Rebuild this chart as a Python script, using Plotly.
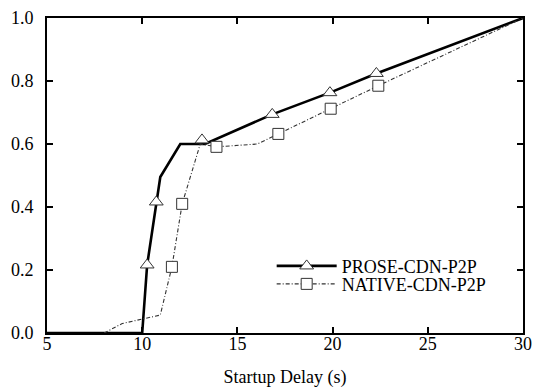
import plotly.graph_objects as go

# CDF of startup delay for the two delivery schemes
prose_x = [5, 10, 10.26, 10.74, 10.95, 12.0, 13.3, 16.83, 19.86, 22.3, 30]
prose_y = [0.0, 0.0, 0.216, 0.416, 0.495, 0.60, 0.60, 0.694, 0.763, 0.824, 1.0]
prose_mx = [10.26, 10.74, 13.14, 16.83, 19.86, 22.3]
prose_my = [0.216, 0.416, 0.613, 0.694, 0.763, 0.824]

native_x = [8.0, 8.95, 10.95, 11.56, 12.1, 13.05, 13.9, 16.05, 17.15, 19.9, 22.4, 30]
native_y = [0.0, 0.03, 0.057, 0.21, 0.41, 0.60, 0.591, 0.60, 0.632, 0.712, 0.785, 1.0]
native_mx = [11.56, 12.1, 13.9, 17.15, 19.9, 22.4]
native_my = [0.21, 0.41, 0.591, 0.632, 0.712, 0.785]

x_ticks = [5, 10, 15, 20, 25, 30]
y_ticks = [0.0, 0.2, 0.4, 0.6, 0.8, 1.0]

FONT = "Liberation Serif, Times New Roman, serif"
prose_line = dict(color="black", width=2.6)
native_line = dict(color="#333333", width=1.1, dash="4px,2px,1px,2px")
tri = dict(symbol="triangle-up", size=12, color="white",
           line=dict(color="#333333", width=1))
sq = dict(symbol="square", size=11, color="white",
          line=dict(color="#333333", width=1))

fig = go.Figure()
fig.add_trace(go.Scatter(x=prose_x, y=prose_y, mode="lines", line=prose_line,
                         showlegend=False, hoverinfo="skip"))
fig.add_trace(go.Scatter(x=native_x, y=native_y, mode="lines", line=native_line,
                         showlegend=False, hoverinfo="skip"))
fig.add_trace(go.Scatter(x=prose_mx, y=prose_my, mode="markers", marker=tri,
                         showlegend=False))
fig.add_trace(go.Scatter(x=native_mx, y=native_my, mode="markers", marker=sq,
                         showlegend=False))
# legend entries (one per legend box so rows can sit tightly)
fig.add_trace(go.Scatter(x=[None], y=[None], mode="lines+markers", name="PROSE-CDN-P2P",
                         line=prose_line, marker=tri, legend="legend"))
fig.add_trace(go.Scatter(x=[None], y=[None], mode="lines+markers", name="NATIVE-CDN-P2P",
                         line=native_line, marker=sq, legend="legend2"))

axis_common = dict(showline=True, linecolor="black", linewidth=2, mirror="ticks",
                   ticks="inside", ticklen=6, tickwidth=2, tickcolor="black",
                   showgrid=False, zeroline=False, automargin=False,
                   tickfont=dict(family=FONT, size=18, color="black"))

fig.update_xaxes(range=[5, 30], tickvals=x_ticks, ticklabelstandoff=-7,
                 title=dict(text="Startup Delay (s)", standoff=18,
                            font=dict(family=FONT, size=18, color="black")),
                 **axis_common)
fig.update_yaxes(range=[0, 1], tickvals=y_ticks, tickformat=".1f",
                 ticklabelstandoff=8, **axis_common)

legend_common = dict(xanchor="left", yanchor="middle", bgcolor="rgba(0,0,0,0)",
                     font=dict(family=FONT, size=18, color="black"),
                     itemwidth=60)
fig.update_layout(
    width=533, height=391,
    margin=dict(l=47, r=10, t=18, b=58, autoexpand=False),
    paper_bgcolor="white", plot_bgcolor="white",
    legend=dict(x=0.472, y=0.212, **legend_common),
    legend2=dict(x=0.472, y=0.155, **legend_common),
)

fig.write_html("out.html")
